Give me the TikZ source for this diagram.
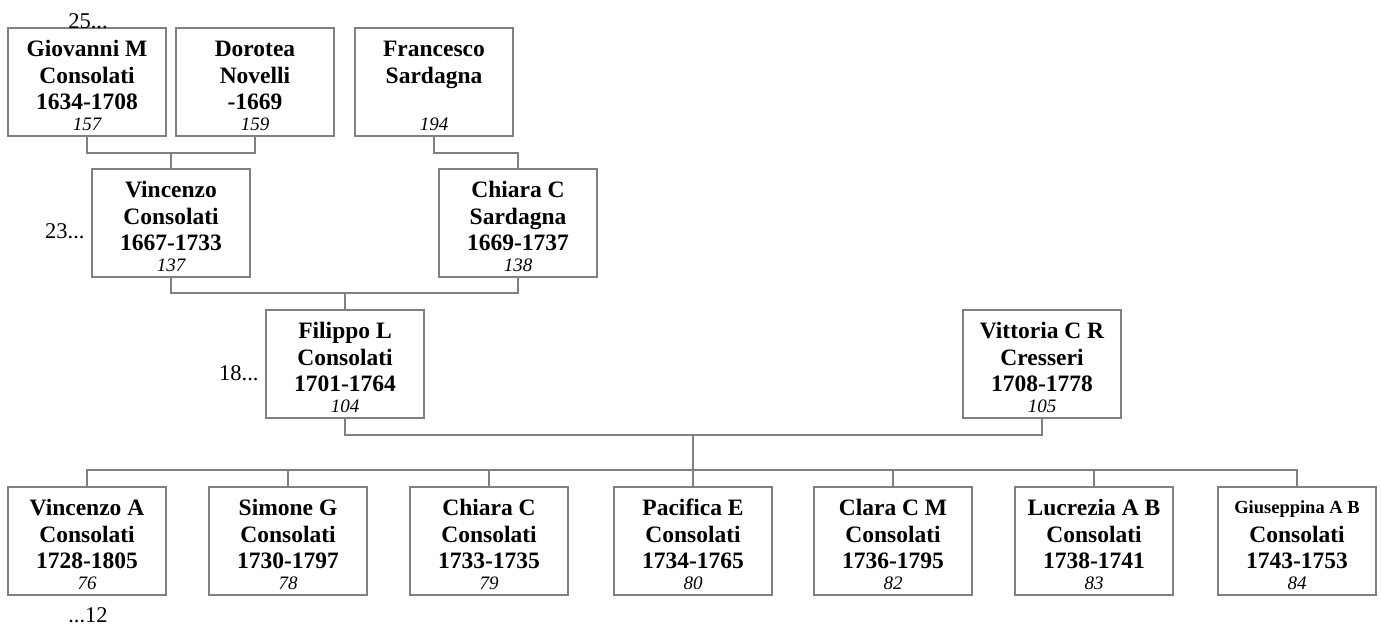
\documentclass[tikz,border=0pt]{standalone}
\usepackage{fontspec}
\setmainfont{Liberation Serif}
\begin{document}
\begin{tikzpicture}[x=1pt,y=-1pt,
  person/.style={draw=black!50,line width=2.6pt,fill=white,minimum width=158pt,minimum height=108pt,inner sep=0pt},
  conn/.style={draw=black!50,line width=2.6pt},
  nm/.style={font=\fontsize{23.5}{26}\selectfont\bfseries},
  num/.style={font=\fontsize{19}{22}\selectfont\itshape},
  lbl/.style={font=\fontsize{22.5}{26}\selectfont}]
\useasboundingbox (0,0) rectangle (1381,625);
\newcommand{\qbox}[7]{%
  \node[person] (#1) at (#2,#3) {};
  \node[nm,anchor=base] at ([yshift=-30pt]#1.north) {#4};
  \node[nm,anchor=base] at ([yshift=-57pt]#1.north) {#5};
  \node[nm,anchor=base] at ([yshift=-83pt]#1.north) {#6};
  \node[num,anchor=base] at ([yshift=-104pt]#1.north) {#7};}
% row 1
\qbox{gio}{87}{82}{Giovanni M}{Consolati}{1634-1708}{157}
\qbox{dor}{255}{82}{Dorotea}{Novelli}{-1669}{159}
\qbox{fra}{434}{82}{Francesco}{Sardagna}{}{194}
% row 2
\qbox{vin}{171}{223}{Vincenzo}{Consolati}{1667-1733}{137}
\qbox{chi}{518}{223}{Chiara C}{Sardagna}{1669-1737}{138}
% row 3
\qbox{fil}{345}{364}{Filippo L}{Consolati}{1701-1764}{104}
\qbox{vit}{1042}{364}{Vittoria C R}{Cresseri}{1708-1778}{105}
% row 4
\qbox{c1}{87}{541}{Vincenzo A}{Consolati}{1728-1805}{76}
\qbox{c2}{288}{541}{Simone G}{Consolati}{1730-1797}{78}
\qbox{c3}{489}{541}{Chiara C}{Consolati}{1733-1735}{79}
\qbox{c4}{693}{541}{Pacifica E}{Consolati}{1734-1765}{80}
\qbox{c5}{893}{541}{Clara C M}{Consolati}{1736-1795}{82}
\qbox{c6}{1094}{541}{Lucrezia A B}{Consolati}{1738-1741}{83}
\node[person] (c7) at (1297,541) {};
\node[font=\fontsize{18.5}{20}\selectfont\bfseries,anchor=base] at ([yshift=-28pt]c7.north) {Giuseppina A B};
\node[nm,anchor=base] at ([yshift=-57pt]c7.north) {Consolati};
\node[nm,anchor=base] at ([yshift=-83pt]c7.north) {1743-1753};
\node[num,anchor=base] at ([yshift=-104pt]c7.north) {84};
% connectors
\coordinate (m1) at (171,153);
\draw[conn] (gio.south) |- (m1) -| (dor.south);
\draw[conn] (m1) -- (vin.north);
\draw[conn] (fra.south) |- (518,153) -- (chi.north);
\coordinate (m2) at (345,293);
\draw[conn] (vin.south) |- (m2) -| (chi.south);
\draw[conn] (m2) -- (fil.north);
\coordinate (m3) at (693,435);
\draw[conn] (fil.south) |- (m3) -| (vit.south);
\coordinate (b) at (693,470);
\draw[conn] (m3) -- (b);
\draw[conn] (c1.north) |- (b) -| (c7.north);
\foreach \c in {c2,c3,c4,c5,c6}{\draw[conn] (\c.north) -- (\c.north |- b);}
% labels
\node[lbl,anchor=base] (l1) at (88,28) {25...};
\node[lbl,anchor=base east,inner xsep=6pt] (l2) at (vin.west |- 0,238) {23...};
\node[lbl,anchor=base east,inner xsep=6pt] (l3) at (fil.west |- 0,380) {18...};
\node[lbl,anchor=base] (l4) at (88,622) {...12};
\end{tikzpicture}
\end{document}
